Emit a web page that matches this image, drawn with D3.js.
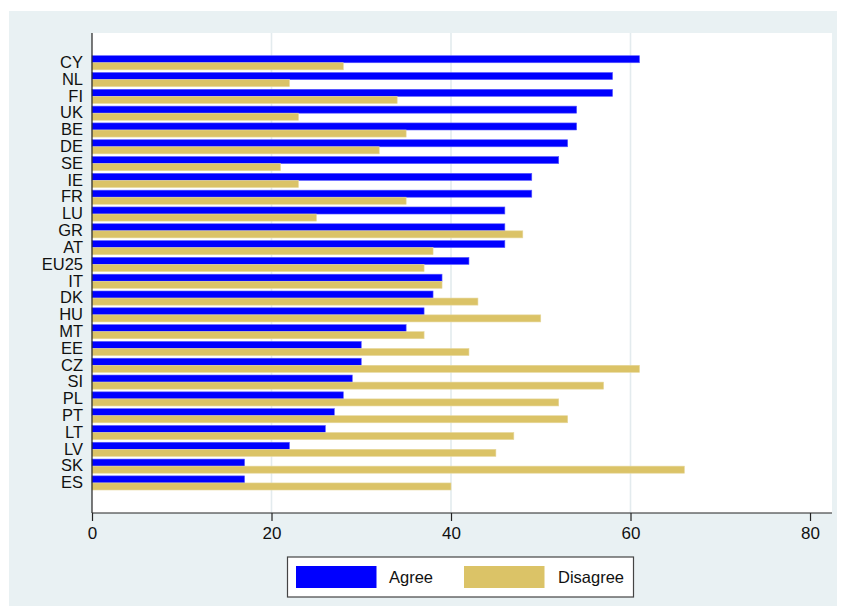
<!DOCTYPE html>
<html>
<head>
<meta charset="utf-8">
<script src="https://cdn.jsdelivr.net/npm/d3@7/dist/d3.min.js"></script>
<style>
  html, body { margin: 0; padding: 0; background: #ffffff; }
  svg { display: block; font-family: "Liberation Sans", Arial, sans-serif; }
</style>
</head>
<body>
<svg id="chart" width="846" height="616"></svg>
<script>
const countries = ["CY","NL","FI","UK","BE","DE","SE","IE","FR","LU","GR","AT","EU25","IT","DK","HU","MT","EE","CZ","SI","PL","PT","LT","LV","SK","ES"];
const agree    = [61,58,58,54,54,53,52,49,49,46,46,46,42,39,38,37,35,30,30,29,28,27,26,22,17,17];
const disagree = [28,22,34,23,35,32,21,23,35,25,48,38,37,39,43,50,37,42,61,57,52,53,47,45,66,40];
const xTicks = [0,20,40,60,80];
const gridTicks = [20,40,60];
const seriesNames = ["Agree","Disagree"];
const seriesColors = ["#0000ff","#dbc367"];

const svg = d3.select("#chart");
const W = 846, H = 616;

// outer graph region
svg.append("rect").attr("x", 9).attr("y", 11).attr("width", 828).attr("height", 595).attr("fill", "#e9f1f3");

const plot = {left: 92, right: 832, top: 33, bottom: 513};
svg.append("rect").attr("x", plot.left).attr("y", plot.top)
  .attr("width", plot.right - plot.left).attr("height", plot.bottom - plot.top)
  .attr("fill", "#ffffff");

const x = d3.scaleLinear().domain([0, 82.45]).range([plot.left, plot.right]);
const y = d3.scaleBand().domain(countries).range([55.7, 490]).paddingInner(0.16).paddingOuter(0);

// gridlines
svg.append("g").selectAll("line").data(gridTicks).join("line")
  .attr("x1", d => x(d)).attr("x2", d => x(d))
  .attr("y1", plot.top).attr("y2", plot.bottom)
  .attr("stroke", "#e3ebee").attr("stroke-width", 1.6);

// bars
const rows = countries.map((c, i) => ({c, a: agree[i], d: disagree[i]}));
const bh = y.bandwidth() / 2;
const g = svg.append("g");
g.selectAll("rect.agree").data(rows).join("rect").attr("class", "agree")
  .attr("x", x(0)).attr("y", d => y(d.c))
  .attr("width", d => x(d.a) - x(0)).attr("height", bh)
  .attr("fill", seriesColors[0]).attr("stroke", "#5c5cff").attr("stroke-width", 0.6);
g.selectAll("rect.dis").data(rows).join("rect").attr("class", "dis")
  .attr("x", x(0)).attr("y", d => y(d.c) + bh)
  .attr("width", d => x(d.d) - x(0)).attr("height", bh)
  .attr("fill", seriesColors[1]).attr("stroke", "#e6d79c").attr("stroke-width", 0.6);

// x axis
const xAxis = d3.axisBottom(x).tickValues(xTicks).tickSize(8).tickPadding(6).tickFormat(d3.format("d"));
const xg = svg.append("g").attr("transform", `translate(0,${plot.bottom})`).call(xAxis);
xg.select(".domain").attr("stroke", "#222").attr("stroke-width", 1.2)
  .attr("d", `M${plot.left},0H${plot.right}`);
xg.selectAll(".tick line").attr("stroke", "#222").attr("stroke-width", 1.2);
xg.selectAll(".tick text").attr("font-size", "17px").attr("fill", "#111")
  .attr("font-family", '"Liberation Sans", Arial, sans-serif');

// y axis
const yAxis = d3.axisLeft(y).tickSize(0).tickPadding(9);
const yg = svg.append("g").attr("transform", `translate(${plot.left},0)`).call(yAxis);
yg.select(".domain").attr("stroke", "#222").attr("stroke-width", 1.2)
  .attr("d", `M0,${plot.top}V${plot.bottom}`);
yg.selectAll(".tick text").attr("font-size", "16.5px").attr("fill", "#111")
  .attr("font-family", '"Liberation Sans", Arial, sans-serif');

// legend
const lg = svg.append("g");
lg.append("rect").attr("x", 287.5).attr("y", 557).attr("width", 346).attr("height", 40)
  .attr("fill", "#ffffff").attr("stroke", "#444").attr("stroke-width", 1.2);
const legX = [296, 464];
const legTX = [389, 558];
seriesNames.forEach((n, i) => {
  lg.append("rect").attr("x", legX[i]).attr("y", 566).attr("width", 80.5).attr("height", 22)
    .attr("fill", seriesColors[i]);
  lg.append("text").attr("x", legTX[i]).attr("y", 577).attr("dy", "0.35em")
    .attr("font-size", "16.5px").attr("fill", "#111").text(n);
});
</script>
</body>
</html>
